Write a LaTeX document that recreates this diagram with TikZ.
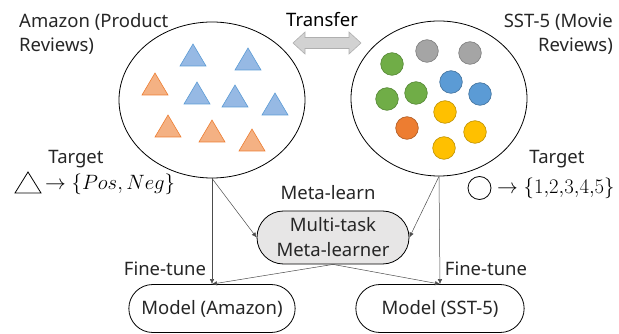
\documentclass[tikz,border=0pt]{standalone}
\usepackage{fontspec}
\setmainfont{Noto Sans}
\usetikzlibrary{arrows.meta,shapes.geometric,shapes.misc}
\definecolor{triBlueF}{RGB}{150,185,228}
\definecolor{triBlueD}{RGB}{91,155,213}
\definecolor{triOrF}{RGB}{244,177,131}
\definecolor{triOrD}{RGB}{237,125,49}
\definecolor{cGreen}{RGB}{112,173,71}
\definecolor{cGreenD}{RGB}{84,135,52}
\definecolor{cGray}{RGB}{165,165,165}
\definecolor{cGrayD}{RGB}{125,125,125}
\definecolor{cBlue}{RGB}{91,155,213}
\definecolor{cBlueD}{RGB}{65,113,156}
\definecolor{cYel}{RGB}{255,192,0}
\definecolor{cYelD}{RGB}{190,145,0}
\definecolor{cOr}{RGB}{237,125,49}
\definecolor{cOrD}{RGB}{174,90,33}
\definecolor{metaF}{RGB}{231,230,230}
\definecolor{arrF}{RGB}{210,210,210}
\definecolor{arrD}{RGB}{175,175,175}
\tikzset{
  txt/.style={inner sep=0pt, font=\fontsize{18.5}{22}\selectfont, text=black!85},
  domainell/.style={ellipse, draw=black, line width=0.8pt},
  stadium/.style={rounded rectangle, draw=black, line width=0.8pt, align=center,
     font=\fontsize{18.5}{25}\selectfont, text=black!85},
  conn/.style={draw=black!70, line width=0.5pt, -{Latex[length=5pt,width=4.5pt]}},
  bt/.style={fill=triBlueF, draw=triBlueD, line width=0.6pt},
  ot/.style={fill=triOrF, draw=triOrD, line width=0.6pt},
}
\begin{document}
\begin{tikzpicture}[x=1pt,y=-1pt]
\useasboundingbox (0,0) rectangle (619,334);
% domains
\node[domainell, minimum width=186pt, minimum height=156pt] (amz) at (212,100) {};
\node[domainell, minimum width=176pt, minimum height=155pt] (sst) at (439,98.5) {};
% triangles
\foreach \x/\y in {193/44, 248/48, 197/82, 235/85, 275/93}
  \filldraw[bt] (\x,\y) -- ++(13,22) -- ++(-26,0) -- cycle;
\foreach \x/\y in {155/73, 168/115, 212/120, 252/129}
  \filldraw[ot] (\x,\y) -- ++(13,22) -- ++(-26,0) -- cycle;
% circles
\foreach \x/\y/\c in {392/64/cGreen, 427/51/cGray, 470/53/cGray, 451/82/cBlue,
   387/99/cGreen, 416/93/cGreen, 480/94/cBlue, 445/112/cYel, 407/128/cOr,
   475/132/cYel, 444/148/cYel}
  \filldraw[fill=\c, draw=\c D, line width=0.6pt] (\x,\y) circle (11.3);
% transfer arrow
\filldraw[fill=arrF, draw=arrD, line width=0.6pt]
  (293,43) -- (305,32) -- (305,37.5) -- (349,37.5) -- (349,32) -- (361,43)
  -- (349,54) -- (349,48.5) -- (305,48.5) -- (305,54) -- cycle;
\node[txt, font=\fontsize{18.5}{22}\selectfont\bfseries, text=black, anchor=base] (transfer) at (322,27) {Transfer};
% domain labels
\node[txt, anchor=base west] (amzl1) at (19,28) {Amazon (Product};
\node[txt, anchor=base west] (amzl2) at (19,52) {Reviews)};
\node[txt, anchor=base east] (sstl1) at (613,28) {SST-5 (Movie};
\node[txt, anchor=base east] (sstl2) at (613,52) {Reviews)};
% targets
\node[txt, anchor=base] (tgtl) at (76,164) {Target};
\draw[line width=0.8pt] (28,172) -- (41,193) -- (15,193) -- cycle;
\node[txt, anchor=west, font=\fontsize{19.5}{22}\selectfont, text=black] (mathl) at (45,184) {$\rightarrow\{Pos,Neg\}$};
\node[txt, anchor=base] (tgtr) at (557,164) {Target};
\node[draw=black, line width=0.8pt, circle, minimum size=23pt, inner sep=0pt] (circr) at (479.5,188) {};
\node[txt, anchor=west, font=\fontsize{20}{22}\selectfont, text=black] (mathr) at (497,188) {$\rightarrow\{1{,}2{,}3{,}4{,}5\}$};
% meta learner and models
\node[stadium, fill=metaF, minimum width=154pt, minimum height=53pt, inner sep=1pt] (meta) at (333,237.5) {Multi-task\\Meta-learner};
\node[txt, anchor=base] (metal) at (328,200) {Meta-learn};
\node[stadium, fill=white, minimum width=173pt, minimum height=48pt] (ma) at (212,308.5) {Model (Amazon)};
\node[stadium, fill=white, minimum width=175pt, minimum height=48pt] (ms) at (440,308.5) {Model (SST-5)};
\node[txt, anchor=base] (ftl) at (165,275) {Fine-tune};
\node[txt, anchor=base] (ftr) at (486,275) {Fine-tune};
% connectors
\draw[conn] (amz.south) -- (ma.north);
\draw[conn] (amz.south) -- (meta.west);
\draw[conn] (meta.south) -- (ma.north);
\draw[conn] (sst.south) -- (ms.north);
\draw[conn] (sst.south) -- (meta.east);
\draw[conn] (meta.south) -- (ms.north);
\end{tikzpicture}
\end{document}
